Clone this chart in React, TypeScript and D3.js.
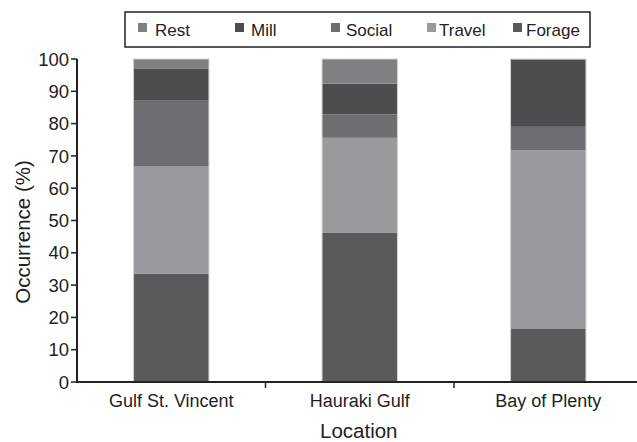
import React from "react";
import * as d3 from "d3";

const locations = ["Gulf St. Vincent", "Hauraki Gulf", "Bay of Plenty"];
const seriesNames = ["Forage", "Travel", "Social", "Mill", "Rest"];
const forage = [33.6, 46.3, 16.6];
const travel = [33.1, 29.3, 55.2];
const social = [20.4, 7.3, 7.2];
const mill = [10.0, 9.5, 20.7];
const rest = [2.9, 7.6, 0.3];
const legendOrder = ["Rest", "Mill", "Social", "Travel", "Forage"];
const yTicks = [0, 10, 20, 30, 40, 50, 60, 70, 80, 90, 100];

const colors: Record<string, string> = {
  Forage: "#5a5a5c",
  Travel: "#9a9a9e",
  Social: "#6e6e72",
  Mill: "#4d4d4f",
  Rest: "#808084",
};

const W = 637;
const H = 442;
const FONT = "'Liberation Sans', Arial, Helvetica, sans-serif";

export default function App() {
  const rows = locations.map((loc, i) => ({
    loc,
    Forage: forage[i],
    Travel: travel[i],
    Social: social[i],
    Mill: mill[i],
    Rest: rest[i],
  }));
  const stack = d3.stack<any>().keys(seriesNames);
  const layers = stack(rows);

  const x = d3.scaleBand<string>().domain(locations).range([77, 642.5]).paddingInner(0.6).paddingOuter(0.3);
  const y = d3.scaleLinear().domain([0, 100]).range([382, 59]);
  const axisX = 77;
  const boundaries = locations.slice(1).map((l) => (x(l) as number) - (x.step() - x.bandwidth()) / 2);

  const legendItems = [
    { sq: 138, tx: 155 },
    { sq: 235, tx: 251 },
    { sq: 331, tx: 346 },
    { sq: 427, tx: 439 },
    { sq: 513, tx: 526 },
  ];

  return (
    <svg width={W} height={H} style={{ position: "absolute", left: 0, top: 0, background: "#fff" }} fontFamily={FONT}>
      {/* legend */}
      <rect x={125} y={12} width={465} height={35} fill="#fff" stroke="#222" strokeWidth={1.5} />
      {legendOrder.map((name, i) => (
        <g key={name}>
          <rect x={legendItems[i].sq} y={23} width={9} height={9} fill={colors[name]} />
          <text x={legendItems[i].tx} y={35.5} fontSize={17} fill="#222">{name}</text>
        </g>
      ))}

      {/* bars */}
      {layers.map((layer) => (
        <g key={layer.key}>
          {layer.map((d, i) => (
            <rect
              key={i}
              x={x(locations[i])}
              width={x.bandwidth()}
              y={y(d[1])}
              height={Math.max(0, y(d[0]) - y(d[1]))}
              fill={colors[layer.key]}
            />
          ))}
        </g>
      ))}
      {locations.map((loc, i) => {
        const total = forage[i] + travel[i] + social[i] + mill[i] + rest[i];
        return (
          <rect key={loc} x={x(loc)} width={x.bandwidth()} y={y(total)} height={y(0) - y(total)} fill="none" stroke="#cfcfd2" strokeWidth={1} />
        );
      })}

      {/* y axis */}
      <line x1={axisX} x2={axisX} y1={y(100)} y2={y(0) + 1} stroke="#222" strokeWidth={2} />
      {yTicks.map((t) => (
        <g key={t}>
          <line x1={axisX - 6} x2={axisX} y1={y(t)} y2={y(t)} stroke="#222" strokeWidth={1.5} />
          <text x={axisX - 8} y={y(t)} dy="0.36em" textAnchor="end" fontSize={18.5} fill="#222">{t}</text>
        </g>
      ))}
      <text transform="translate(30,232) rotate(-90)" textAnchor="middle" fontSize={20.5} fill="#222">Occurrence (%)</text>

      {/* x axis */}
      <line x1={axisX - 1} x2={W} y1={y(0)} y2={y(0)} stroke="#222" strokeWidth={2} />
      {boundaries.map((b, i) => (
        <line key={i} x1={b} x2={b} y1={y(0)} y2={y(0) + 6} stroke="#222" strokeWidth={1.5} />
      ))}
      {locations.map((loc) => (
        <text key={loc} x={(x(loc) as number) + x.bandwidth() / 2} y={407} textAnchor="middle" fontSize={18} fill="#222">{loc}</text>
      ))}
      <text x={(77 + 642.5) / 2 - 1} y={438} textAnchor="middle" fontSize={20.5} fill="#222">Location</text>
    </svg>
  );
}
